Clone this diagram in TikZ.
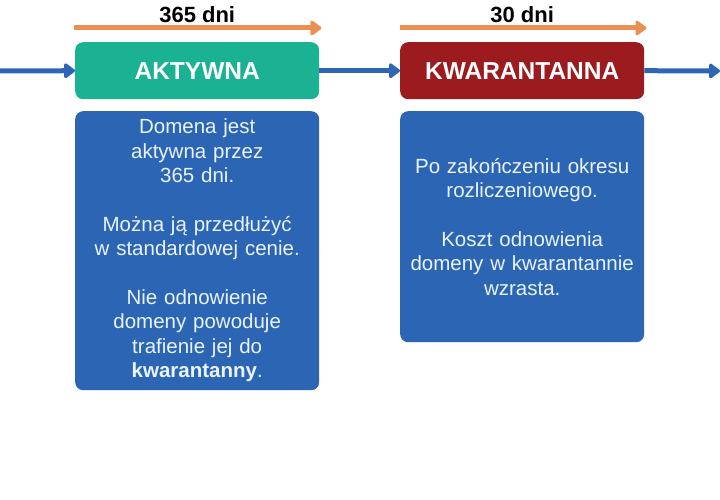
\documentclass[tikz,border=0pt]{standalone}
\usepackage{fontspec}
\setmainfont{Liberation Sans}
\usepackage{tikz}
\usetikzlibrary{calc,arrows.meta}
\definecolor{stagegreen}{RGB}{27,178,148}
\definecolor{stagered}{RGB}{155,27,30}
\definecolor{infoblue}{RGB}{44,101,180}
\definecolor{infotext}{RGB}{232,244,255}
\definecolor{flowblue}{RGB}{47,101,181}
\definecolor{periodorange}{RGB}{233,144,82}
\tikzset{
    stage/.style={
        rounded corners=8pt,
        minimum width=244pt,
        minimum height=57pt,
        inner sep=0pt,
        anchor=north west,
        text=white,
        font=\fontsize{24.5}{28}\selectfont\bfseries
    },
    info/.style={
        fill=infoblue,
        rounded corners=8pt,
        minimum width=244pt,
        text width=240pt,
        inner sep=0pt,
        anchor=north west,
        align=center,
        text=infotext,
        font=\fontsize{20.5}{24.5}\selectfont
    },
    flow/.style={
        draw=flowblue,
        line width=5pt,
        -{Triangle[length=12pt,width=17pt,round]}
    },
    period/.style={
        draw=periodorange,
        line width=5pt,
        -{Triangle[length=12pt,width=17pt,round]}
    },
    periodlabel/.style={
        font=\fontsize{22}{26}\selectfont\bfseries
    }
}
\begin{document}
\begin{tikzpicture}[x=1pt,y=-1pt]

    \useasboundingbox (0,0) rectangle (720,500);

    %% Stage 1: Aktywna
    \node (A) [stage,fill=stagegreen] at (75,42) {AKTYWNA};
    \node (A1) [info,minimum height=279pt] at (75,111) {Domena jest\\ aktywna przez\\ 365 dni.\\[24pt]
    Można ją przedłużyć\\ w standardowej cenie.\\[24pt]
    Nie odnowienie\\ domeny powoduje\\ trafienie jej do\\ {\bfseries kwarantanny}.};
    \coordinate (A0s) at ($(A.north west)+(-1,-14)$);
    \coordinate (A0e) at ($(A.north east)+(2,-14)$);
    \draw[period] (A0s) -- (A0e);
    \node (D1) [periodlabel] at ($(A.north)+(0,-27)$) {365 dni};

    %% Stage 2: Kwarantanna
    \node (K) [stage,fill=stagered] at (400,42) {KWARANTANNA};
    \node (K1) [info,minimum height=231pt] at (400,111) {Po zakończeniu okresu\\ rozliczeniowego.\\[24pt]
    Koszt odnowienia\\ domeny w kwarantannie\\ wzrasta.};
    \coordinate (K0s) at ($(K.north west)+(0,-14)$);
    \coordinate (K0e) at ($(K.north east)+(2,-14)$);
    \draw[period] (K0s) -- (K0e);
    \node (D2) [periodlabel] at ($(K.north)+(0,-27)$) {30 dni};

    %% flow
    \coordinate (in) at (0,71);
    \coordinate (out) at (720,71);
    \draw[flow] (in) -- (A.west);
    \draw[flow] (A.east) -- (K.west);
    \draw[flow] (K.east) -- (out);

\end{tikzpicture}
\end{document}
